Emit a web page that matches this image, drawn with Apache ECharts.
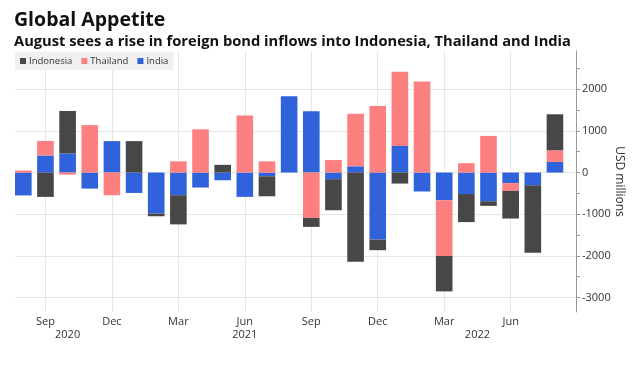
<!DOCTYPE html>
<html>
<head>
<meta charset="utf-8">
<script src="https://cdn.jsdelivr.net/npm/echarts@6/dist/echarts.min.js"></script>
<style>
html,body{margin:0;padding:0;background:#fff;}
#chart{width:639px;height:365px;}
</style>
</head>
<body>
<div id="chart"></div>
<script>
const months = ['Aug 2020','Sep 2020','Oct 2020','Nov 2020','Dec 2020',
  'Jan 2021','Feb 2021','Mar 2021','Apr 2021','May 2021','Jun 2021','Jul 2021','Aug 2021','Sep 2021','Oct 2021','Nov 2021','Dec 2021',
  'Jan 2022','Feb 2022','Mar 2022','Apr 2022','May 2022','Jun 2022','Jul 2022','Aug 2022'];
const indonesia = [0, -585, 1020, 0, 0, 755, -65, -700, 0, 185, 0, -480, 0, -215, -745, -2140, -255, -265, 0, -850, -675, -110, -665, -1620, 865];
const thailand  = [50, 350, -50, 1140, -545, 0, 0, 270, 1040, 0, 1370, 270, 0, -1090, 300, 1260, 1600, 1780, 2190, -1340, 225, 880, -185, 0, 280];
const india     = [-550, 410, 460, -385, 755, -490, -985, -545, -360, -185, -585, -90, 1830, 1475, -160, 150, -1610, 640, -455, -665, -515, -690, -255, -305, 255];
const monthTickNames = ['Sep','Dec','Mar','Jun'];
const yearLabels = ['2020','2021','2022'];
const yearTickPos = [2, 10, 20.5];
const yLabelValues = [-3000, -2000, -1000, 0, 1000, 2000];
const yTickValues = [-3000, -2500, -2000, -1500, -1000, -500, 0, 500, 1000, 1500, 2000, 2500];
const gridY = [-3000, -2000, -1000, 0, 1000, 2000];

const FONT = '"Open Sans", sans-serif';
const monthTickPos = months.map((m, i) => monthTickNames.indexOf(m.slice(0, 3)) >= 0 ? i : -1).filter(i => i >= 0);
// value first so that the stack is computed on the value dimension
const toPairs = arr => arr.map((v, i) => [v, i]);
const dims = ['val', 'idx'];
const enc = {x: 'idx', y: 'val'};

const chart = echarts.init(document.getElementById('chart'), null, {renderer: 'canvas'});
const gridLineStyle = {color: '#e6e6e6', width: 1, type: 'solid'};
chart.setOption({
  animation: false,
  textStyle: {fontFamily: FONT},
  title: [
    {text: 'Global Appetite', left: 9, top: 5, textStyle: {fontFamily: FONT, fontSize: 19.5, fontWeight: 'bold', color: '#111'}},
    {text: 'August sees a rise in foreign bond inflows into Indonesia, Thailand and India', left: 9, top: 29,
     textStyle: {fontFamily: FONT, fontSize: 14.7, fontWeight: 'bold', color: '#111'}}
  ],
  legend: {
    data: ['Indonesia', 'Thailand', 'India'],
    left: 15, top: 52, padding: [4, 5, 4, 5],
    backgroundColor: '#f0f0f0',
    icon: 'rect', itemWidth: 6, itemHeight: 6, itemGap: 9,
    textStyle: {fontFamily: FONT, fontSize: 9.5, color: '#333', padding: [0, 0, 0, -2]}
  },
  grid: {left: 15, right: 63, top: 51, bottom: 53, containLabel: false},
  xAxis: [
    {type: 'value', min: -0.375, max: 24.95, position: 'bottom',
     axisLine: {show: false, onZero: false}, axisTick: {show: false}, splitLine: {show: false},
     axisLabel: {customValues: monthTickPos, formatter: v => months[v].slice(0, 3), fontFamily: FONT, fontSize: 11, color: '#333', margin: 4}},
    {type: 'value', min: -0.375, max: 24.95, position: 'bottom', offset: 13,
     axisLine: {show: false, onZero: false}, axisTick: {show: false}, splitLine: {show: false},
     axisLabel: {customValues: yearTickPos, formatter: v => yearLabels[yearTickPos.indexOf(v)], fontFamily: FONT, fontSize: 11, color: '#333', margin: 4}}
  ],
  yAxis: {
    type: 'value', position: 'right', min: -3350, max: 2920,
    axisLine: {show: true, onZero: false, lineStyle: {color: '#999'}},
    axisTick: {show: true, customValues: yTickValues, length: 4, lineStyle: {color: '#999'}},
    axisLabel: {customValues: yLabelValues, formatter: v => String(v), fontFamily: FONT, fontSize: 11, color: '#333', margin: 6},
    splitLine: {show: false},
    name: 'USD millions', nameLocation: 'middle', nameRotate: -90, nameGap: 37, nameMoveOverlap: false,
    nameTextStyle: {fontFamily: FONT, fontSize: 12, color: '#333'}
  },
  series: [
    {name: 'India', type: 'bar', stack: 'total', barWidth: '75%', dimensions: dims, encode: enc, data: toPairs(india),
     itemStyle: {color: '#2f62db'},
     markLine: {silent: true, symbol: 'none', z: 1, label: {show: false}, lineStyle: gridLineStyle, emphasis: {disabled: true},
       data: monthTickPos.map(i => ({xAxis: i})).concat(gridY.map(v => ({yAxis: v})))}},
    {name: 'Thailand', type: 'bar', stack: 'total', barWidth: '75%', dimensions: dims, encode: enc, data: toPairs(thailand), itemStyle: {color: '#fd8080'}},
    {name: 'Indonesia', type: 'bar', stack: 'total', barWidth: '75%', dimensions: dims, encode: enc, data: toPairs(indonesia), itemStyle: {color: '#474747'}}
  ]
});
</script>
</body>
</html>
